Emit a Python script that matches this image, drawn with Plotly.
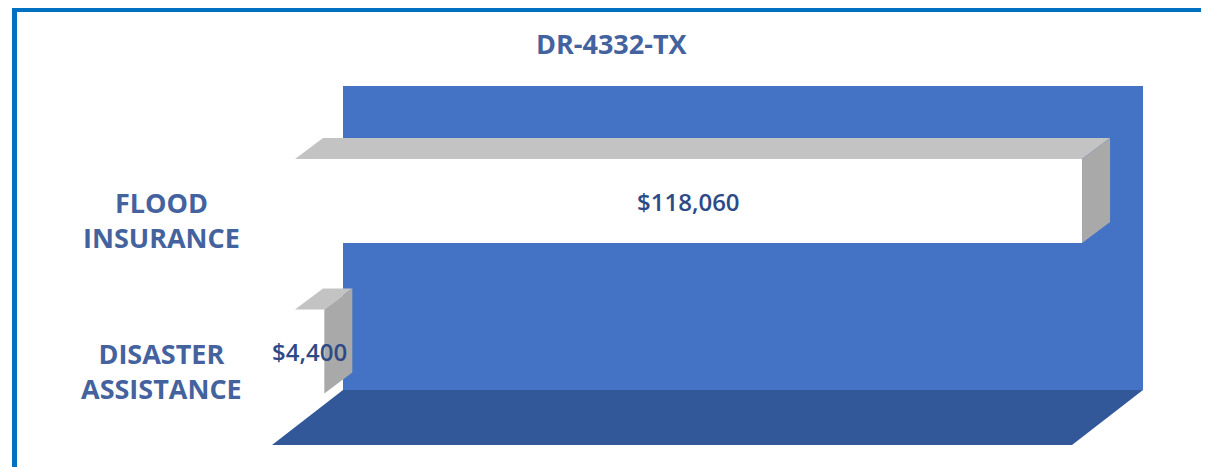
import plotly.graph_objects as go

# ---- data ----
categories = ["DISASTER<br>ASSISTANCE", "FLOOD<br>INSURANCE"]
values = [4400, 118060]
value_labels = ["$4,400", "$118,060"]
title_text = "DR-4332-TX"
axis_max = 120000

# ---- geometry / style constants ----
OFF = 8                          # page body margin offset
W, H = 1209 - OFF, 467 - OFF
PX_PER_UNIT = 1 / 150.0          # horizontal pixels per value unit
CAT_PX = 150.5                   # vertical pixels per category
X0_PX = 295 - OFF                # figure pixel of value 0 on bar front plane
Y1_PX = 201 - OFF                # figure pixel of category 1 centre
BAR_HALF = 0.279
DEPTH_X = 28 / PX_PER_UNIT
DEPTH_Y = 21 / CAT_PX

x_range = [-X0_PX / PX_PER_UNIT, (W - X0_PX) / PX_PER_UNIT]
y_range = [1 - (H - Y1_PX) / CAT_PX, 1 + Y1_PX / CAT_PX]

WALL_X0 = 48 / PX_PER_UNIT
WALL_Y0, WALL_Y1 = 1 - 189 / CAT_PX, 1 + 115 / CAT_PX
FLOOR_DX = -71 / PX_PER_UNIT
FLOOR_DY = -55 / CAT_PX

C_WALL = "#4472C4"
C_FLOOR = "#32589A"
C_TOP = "#C3C3C3"
C_SIDE = "#A9A9A9"
C_FRONT = "#FFFFFF"
C_LABEL = "#44629E"
C_VALUE = "#2E4A86"

fig = go.Figure()


def poly(xs, ys, color):
    fig.add_trace(go.Scatter(
        x=xs + [xs[0]], y=ys + [ys[0]], mode="lines", fill="toself",
        fillcolor=color, line=dict(width=0, color=color),
        hoverinfo="skip", showlegend=False))


# back wall
wx0, wx1 = WALL_X0, WALL_X0 + axis_max
poly([wx0, wx1, wx1, wx0], [WALL_Y0, WALL_Y0, WALL_Y1, WALL_Y1], C_WALL)
# floor
poly([wx0, wx1, wx1 + FLOOR_DX, wx0 + FLOOR_DX],
     [WALL_Y0, WALL_Y0, WALL_Y0 + FLOOR_DY, WALL_Y0 + FLOOR_DY], C_FLOOR)

# bars (front face, top face, side face)
for i, v in enumerate(values):
    yb, yt = i - BAR_HALF, i + BAR_HALF
    poly([0, v, v, 0], [yb, yb, yt, yt], C_FRONT)
    poly([0, v, v + DEPTH_X, DEPTH_X], [yt, yt, yt + DEPTH_Y, yt + DEPTH_Y], C_TOP)
    poly([v, v + DEPTH_X, v + DEPTH_X, v], [yb, yb + DEPTH_Y, yt + DEPTH_Y, yt], C_SIDE)
    fig.add_annotation(x=v / 2, y=i, text=value_labels[i], showarrow=False,
                       xanchor="center", yanchor="middle",
                       font=dict(family="Open Sans", size=24, color=C_VALUE, weight=600))
    fig.add_annotation(x=(161 - OFF) / W, xref="paper", y=i, yref="y", yshift=-19,
                       text=categories[i], showarrow=False, align="center",
                       xanchor="center", yanchor="middle",
                       font=dict(family="Open Sans", size=27, color=C_LABEL, weight="bold"))

fig.add_annotation(x=(612 - OFF) / W, y=1 - (44 - OFF) / H, xref="paper", yref="paper",
                   text=title_text, showarrow=False, xanchor="center", yanchor="middle",
                   font=dict(family="Open Sans", size=27, color=C_LABEL, weight="bold"))

# frame border (top and left)
fig.add_shape(type="line", xref="paper", yref="paper", x0=(14.5 - OFF) / W, x1=1.0,
              y0=1 - 1.5 / H, y1=1 - 1.5 / H, line=dict(color="#0070C0", width=5))
fig.add_shape(type="line", xref="paper", yref="paper", x0=(14.5 - OFF) / W, x1=(14.5 - OFF) / W,
              y0=0, y1=1, line=dict(color="#0070C0", width=5))

fig.update_layout(
    width=W, height=H, autosize=False,
    margin=dict(l=0, r=0, t=0, b=0),
    paper_bgcolor="white", plot_bgcolor="white",
    xaxis=dict(range=x_range, visible=False, fixedrange=True),
    yaxis=dict(range=y_range, visible=False, fixedrange=True),
)

fig.write_html("out.html")
